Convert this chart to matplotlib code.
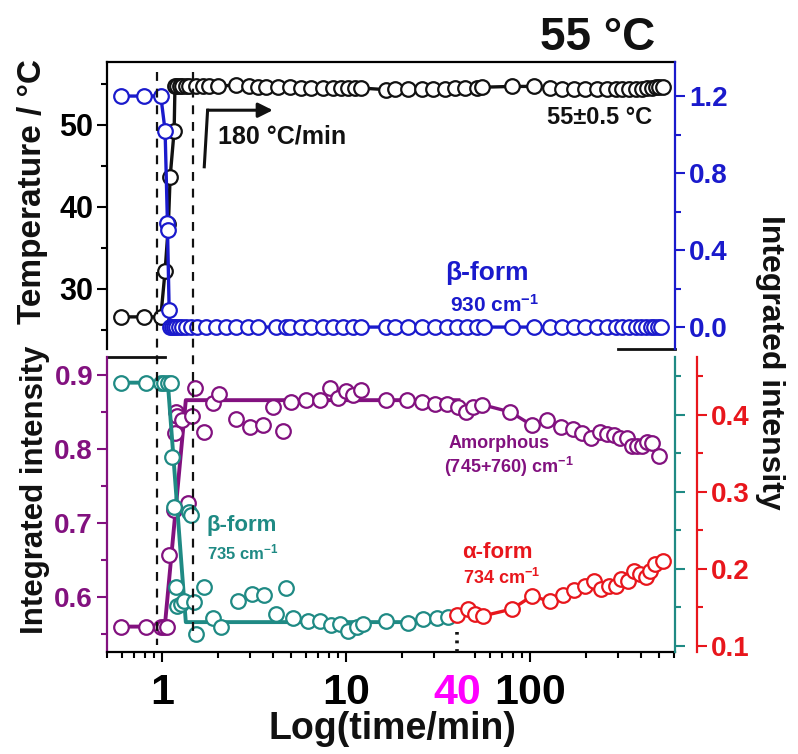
import numpy as np
import matplotlib
matplotlib.use("Agg")
import matplotlib.pyplot as plt
from matplotlib.lines import Line2D
from matplotlib.ticker import FixedLocator, NullFormatter, LogLocator
from matplotlib.transforms import blended_transform_factory

ARIAL = ["Liberation Sans", "DejaVu Sans"]
NARROW = ["Liberation Sans Narrow", "Liberation Sans", "DejaVu Sans"]
plt.rcParams["font.family"] = ARIAL
plt.rcParams["font.weight"] = "bold"
plt.rcParams["mathtext.fontset"] = "custom"
plt.rcParams["mathtext.rm"] = "Liberation Sans:bold"
plt.rcParams["mathtext.bf"] = "Liberation Sans:bold"
plt.rcParams["mathtext.default"] = "bf"

BLACK = "#111111"
BLUE = "#1a1acc"
PURPLE = "#82117f"
TEAL = "#1f8a84"
RED = "#e8161c"
MAGENTA = "#ff00ff"

# ---- top panel: temperature (left) and beta-form 930 cm-1 (right) ----
temp_t = [0.593, 0.795, 0.98, 1.034, 1.078, 1.101, 1.158, 1.17, 1.207, 1.244,
          1.285, 1.341, 1.398, 1.521, 1.652, 1.797, 1.994, 2.513, 2.97, 3.296,
          3.663, 4.236, 4.908, 5.684, 6.446, 7.456, 8.453, 9.392, 10.2, 11.1,
          12.07, 16.5, 18.3, 21.7, 25.6, 29.7, 34.4, 38.9, 44.2, 51.1, 54.5,
          79.4, 104, 128, 149, 172, 199, 231, 262, 290, 316, 343, 373, 406,
          432, 460, 480, 500, 522]
temp_v = [26.6, 26.6, 26.6, 32.2, 37.9, 43.6, 49.3, 54.7, 54.7, 54.7,
          54.7, 54.8, 54.8, 54.7, 54.7, 54.7, 54.7, 54.9, 54.7, 54.6,
          54.6, 54.6, 54.6, 54.5, 54.5, 54.5, 54.5, 54.5, 54.5, 54.5,
          54.5, 54.3, 54.4, 54.4, 54.4, 54.4, 54.4, 54.5, 54.5, 54.5, 54.6,
          54.7, 54.7, 54.5, 54.4, 54.4, 54.4, 54.4, 54.4, 54.4, 54.4, 54.4, 54.4, 54.4,
          54.5, 54.5, 54.6, 54.6, 54.6]

b930_t = [0.593, 0.795, 0.98, 1.034, 1.065, 1.066, 1.088, 1.1, 1.125, 1.158,
          1.192, 1.233, 1.276, 1.341, 1.428, 1.551, 1.724, 1.955, 2.216, 2.513,
          2.908, 3.296, 4.153, 4.708, 4.908, 5.684, 6.446, 7.456, 8.453, 9.58,
          10.87, 12.07, 16.5, 18.3, 21.7, 25.6, 30.3, 35.1, 39.8, 45.1, 51.1,
          55.6, 79.4, 104, 128, 149, 172, 199, 231, 262, 290, 316, 343, 373,
          398, 423, 451, 470, 490, 511]
b930_v = [1.2, 1.2, 1.2, 1.02, 0.539, 0.504, 0.088, 0.0, 0.0, 0.0,
          0.0, 0.0, 0.0, 0.0, 0.0, 0.0, 0.0, 0.0, 0.0, 0.0,
          0.0, 0.0, 0.0, 0.0, 0.0, 0.0, 0.0, 0.0, 0.0, 0.0,
          0.0, 0.0, 0.0, 0.0, 0.0, 0.0, 0.0, 0.0, 0.0, 0.0, 0.0,
          0.0, 0.0, 0.0, 0.0, 0.0, 0.0, 0.0, 0.0, 0.0, 0.0, 0.0, 0.0, 0.0,
          0.0, 0.0, 0.0, 0.0, 0.0, 0.0]

# ---- bottom panel ----
amor_t = [0.593, 0.812, 0.98, 1.021, 1.065, 1.088, 1.158, 1.173, 1.192, 1.207,
          1.285, 1.369, 1.457, 1.508, 1.688, 1.874, 2.038, 2.513, 2.996, 3.51,
          3.98, 4.51, 5.01, 6.05, 7.15, 8.11, 9.0, 10.0, 10.87, 12.07, 16.5,
          21.2, 25.6, 30.3, 35.1, 40.6, 44.7, 49.0, 54.5, 77.7, 102, 123, 146,
          171, 191, 214, 238, 262, 284, 306, 333, 354, 378, 406, 432, 460, 500]
amor_v = [0.56, 0.56, 0.56, 0.56, 0.56, 0.657, 0.718, 0.821, 0.850, 0.844,
          0.839, 0.727, 0.844, 0.882, 0.823, 0.862, 0.875, 0.841, 0.830, 0.832,
          0.857, 0.825, 0.864, 0.866, 0.866, 0.882, 0.869, 0.878, 0.873, 0.880, 0.866,
          0.866, 0.863, 0.861, 0.861, 0.857, 0.850, 0.857, 0.860, 0.850, 0.832, 0.839, 0.830,
          0.827, 0.821, 0.815, 0.823, 0.820, 0.819, 0.815, 0.815, 0.804, 0.804, 0.804, 0.810, 0.808, 0.790]
amor_fit_t = [0.593, 1.03, 1.34, 40.6]
amor_fit_v = [0.56, 0.56, 0.866, 0.866]

b735_t = [0.593, 0.812, 0.98, 1.021, 1.078, 1.111, 1.134, 1.158, 1.192, 1.207,
          1.26, 1.313, 1.386, 1.428, 1.489, 1.521, 1.688, 1.874, 2.082, 2.564,
          3.057, 3.585, 4.153, 4.667, 5.115, 6.175, 7.15, 8.284, 9.275, 10.2,
          11.34, 12.32, 16.5, 21.7, 26.2, 30.9, 35.8]
b735_v = [0.442, 0.442, 0.442, 0.442, 0.442, 0.442, 0.346, 0.281, 0.177, 0.152,
          0.155, 0.159, 0.274, 0.270, 0.157, 0.116, 0.177, 0.136, 0.125, 0.158,
          0.168, 0.166, 0.142, 0.175, 0.136, 0.132, 0.132, 0.127, 0.129, 0.120,
          0.125, 0.129, 0.132, 0.130, 0.135, 0.136, 0.137]
b735_fit_t = [0.593, 1.07, 1.34, 35.8]
b735_fit_v = [0.442, 0.442, 0.131, 0.131]

a734_t = [40.1, 45.5, 50.1, 55.1, 79.4, 102, 127, 151, 172, 197, 221, 243,
          267, 290, 312, 339, 365, 394, 423, 447, 474, 522]
a734_v = [0.140, 0.148, 0.142, 0.139, 0.148, 0.165, 0.158, 0.166, 0.173, 0.178,
          0.184, 0.174, 0.178, 0.178, 0.187, 0.185, 0.198, 0.194, 0.190, 0.198,
          0.207, 0.211]

dash_t = [0.94, 1.47]
x_ticks = [1, 10, 40, 100]
x_ticklabels = ["1", "10", "40", "100"]

fig = plt.figure(figsize=(7.98, 7.54), dpi=100)
ax_t = fig.add_axes([0.1341, 0.5371, 0.7118, 0.3807])
ax_tr = ax_t.twinx()
ax_b = fig.add_axes([0.1341, 0.1353, 0.7118, 0.3912])
ax_bt = ax_b.twinx()
ax_br = ax_b.twinx()
ax_br.spines["right"].set_position(("outward", 16))

mk = dict(marker="o", markersize=10.5, markerfacecolor="white", markeredgewidth=1.6)

ax_t.plot(temp_t, temp_v, color=BLACK, lw=2.4, **mk)
ax_tr.plot(b930_t, b930_v, color=BLUE, lw=2.4, **mk)

ax_b.plot(amor_fit_t, amor_fit_v, color=PURPLE, lw=2.8)
ax_b.plot(amor_t[35:], amor_v[35:], color=PURPLE, lw=2.4)
ax_b.plot(amor_t, amor_v, color=PURPLE, ls="none", **mk)
ax_bt.plot(b735_fit_t, b735_fit_v, color=TEAL, lw=2.8)
ax_bt.plot(b735_t, b735_v, color=TEAL, ls="none", **mk)
ax_br.plot(a734_t, a734_v, color=RED, lw=2.4, **mk)
ax_br.plot([40, 40], [0.0922, 0.118], color=BLACK, lw=2.6, ls=(0, (0.8, 1.6)))

# axes ranges
for ax in (ax_t, ax_b):
    ax.set_xscale("log")
    ax.set_xlim(0.5, 610)
ax_t.set_ylim(22.68, 57.68)
ax_tr.set_ylim(-0.114, 1.377)
ax_b.set_ylim(0.5257, 0.9243)
ax_bt.set_ylim(0.0922, 0.4753)
ax_br.set_ylim(0.0922, 0.4753)

# spines
for ax in (ax_tr, ax_bt, ax_br):
    for s in ("left", "top", "bottom"):
        ax.spines[s].set_visible(False)
ax_t.spines["bottom"].set_visible(False)
ax_t.spines["right"].set_visible(False)
ax_b.spines["top"].set_visible(False)
ax_b.spines["right"].set_visible(False)
ax_b.spines["left"].set_color(PURPLE)
ax_tr.spines["right"].set_color(BLUE)
ax_bt.spines["right"].set_color(TEAL)
ax_br.spines["right"].set_color(RED)
for ax in (ax_t, ax_tr, ax_b, ax_bt, ax_br):
    for s in ax.spines.values():
        s.set_linewidth(1.6)
ax_t.plot([0.9, 1.0], [0, 0], transform=ax_t.transAxes, color=BLACK, lw=2, clip_on=False)
ax_b.plot([0, 0.102], [1, 1], transform=ax_b.transAxes, color=BLACK, lw=2, clip_on=False)

# ticks
tick_kw = dict(direction="out", width=1.5)
ax_t.tick_params(axis="x", which="both", bottom=False, labelbottom=False)
ax_t.yaxis.set_major_locator(FixedLocator([30, 40, 50]))
ax_t.yaxis.set_minor_locator(FixedLocator([25, 35, 45, 55]))
ax_t.tick_params(axis="y", which="major", length=7, labelsize=22, pad=3, **tick_kw)
ax_t.tick_params(axis="y", which="minor", length=4, **tick_kw)

ax_tr.yaxis.set_major_locator(FixedLocator([0.0, 0.4, 0.8, 1.2]))
ax_tr.yaxis.set_minor_locator(FixedLocator([0.2, 0.6, 1.0]))
ax_tr.set_yticklabels(["0.0", "0.4", "0.8", "1.2"])
ax_tr.tick_params(axis="y", which="major", length=7, labelsize=20, colors=BLUE, pad=3, **tick_kw)
ax_tr.tick_params(axis="y", which="minor", length=4, color=BLUE, **tick_kw)

ax_b.yaxis.set_major_locator(FixedLocator([0.6, 0.7, 0.8, 0.9]))
ax_b.yaxis.set_minor_locator(FixedLocator([0.55, 0.65, 0.75, 0.85]))
ax_b.tick_params(axis="y", which="major", length=7, labelsize=20, colors=PURPLE, pad=3, **tick_kw)
ax_b.tick_params(axis="y", which="minor", length=4, color=PURPLE, **tick_kw)

for ax, col in ((ax_bt, TEAL), (ax_br, RED)):
    ax.yaxis.set_major_locator(FixedLocator([0.1, 0.2, 0.3, 0.4]))
    ax.yaxis.set_minor_locator(FixedLocator([0.15, 0.25, 0.35, 0.45]))
    ax.tick_params(axis="y", which="major", length=7, labelsize=20, colors=col, pad=3, **tick_kw)
    ax.tick_params(axis="y", which="minor", length=4, color=col, **tick_kw)
ax_bt.tick_params(axis="y", labelright=False)

ax_b.xaxis.set_major_locator(FixedLocator(x_ticks))
ax_b.set_xticklabels(x_ticklabels, fontfamily=NARROW, fontsize=31)
ax_b.xaxis.set_minor_locator(LogLocator(base=10, subs=np.arange(2, 10), numticks=20))
ax_b.xaxis.set_minor_formatter(NullFormatter())
ax_b.tick_params(axis="x", which="major", length=7, pad=8, **tick_kw)
ax_b.tick_params(axis="x", which="minor", length=4, **tick_kw)
ax_b.xaxis.get_major_ticks()[2].tick1line.set_visible(False)
ax_b.get_xticklabels()[2].set_color(MAGENTA)

# dashed guides spanning both panels
tr = blended_transform_factory(ax_b.transData, fig.transFigure)
for xv, y1 in zip(dash_t, (1 - 645 / 754, 1 - 632 / 754)):
    fig.add_artist(Line2D([xv, xv], [1 - 72 / 754, y1], transform=tr, color=BLACK,
                          lw=1.6, ls=(0, (4, 3.5))))

# heating-rate arrow
ax_t.plot([1.688, 1.76], [44.9, 51.8], color=BLACK, lw=2.2)
ax_t.annotate("", xy=(3.98, 51.8), xytext=(1.76, 51.8),
              arrowprops=dict(arrowstyle="-|>", color=BLACK, lw=2.2, mutation_scale=22,
                              shrinkA=0, shrinkB=0))

# texts
ax_t.text(0.195, 0.739, "180 °C/min", transform=ax_t.transAxes, fontsize=18,
          ha="left", va="center", color=BLACK)
ax_t.text(0.9595, 0.805, "55±0.5 °C", transform=ax_t.transAxes, fontsize=17,
          ha="right", va="center", color=BLACK)
ax_t.text(0.595, 0.265, "β-form", transform=ax_t.transAxes, fontsize=19,
          ha="left", va="center", color=BLUE)
ax_t.text(0.604, 0.155, "930 cm$^{-1}$", transform=ax_t.transAxes, fontsize=15,
          ha="left", va="center", color=BLUE)
ax_b.text(0.176, 0.43, "β-form", transform=ax_b.transAxes, fontsize=16,
          ha="left", va="center", color=TEAL)
ax_b.text(0.176, 0.339, "735 cm$^{-1}$", transform=ax_b.transAxes, fontsize=12,
          ha="left", va="center", color=TEAL)
ax_b.text(0.601, 0.708, "Amorphous", transform=ax_b.transAxes, fontsize=13,
          ha="left", va="center", color=PURPLE)
ax_b.text(0.593, 0.627, "(745+760) cm$^{-1}$", transform=ax_b.transAxes, fontsize=13,
          ha="left", va="center", color=PURPLE)
ax_b.text(0.626, 0.336, "α-form", transform=ax_b.transAxes, fontsize=16,
          ha="left", va="center", color=RED)
ax_b.text(0.626, 0.251, "734 cm$^{-1}$", transform=ax_b.transAxes, fontsize=13,
          ha="left", va="center", color=RED)

fig.text(655 / 798, 1 - 38 / 754, "55 °C", fontsize=33, ha="right", va="center", color=BLACK)
fig.text(33 / 798, 1 - 192 / 754, "Temperature / °C", fontsize=24, rotation=90,
         ha="center", va="center", color=BLACK)
fig.text(35 / 798, 1 - 490 / 754, "Integrated intensity", fontsize=22.5, rotation=90,
         ha="center", va="center", color=BLACK)
fig.text(770 / 798, 1 - 362 / 754, "Integrated intensity", fontsize=23, rotation=270,
         ha="center", va="center", color=BLACK)
fig.text(392 / 798, 1 - 729 / 754, "Log(time/min)", fontsize=27, family=NARROW,
         ha="center", va="center", color=BLACK)

fig.savefig("out.png", dpi=100)
